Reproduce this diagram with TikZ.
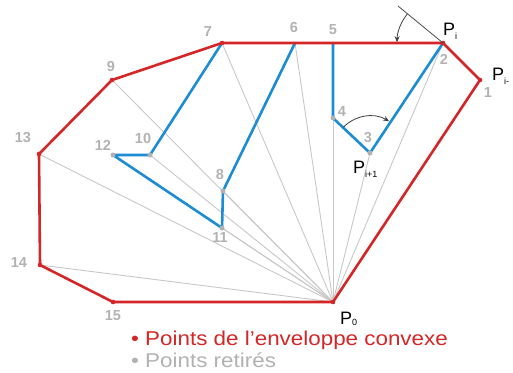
\documentclass[tikz,border=0pt]{standalone}
\usepackage{fontspec}
\setmainfont{Liberation Sans}
\newfontfamily\legendfont[FakeStretch=1.12]{Liberation Sans}
\usetikzlibrary{arrows.meta}

\definecolor{hullred}{RGB}{212,38,38}
\definecolor{stackblue}{RGB}{28,140,212}
\definecolor{raygray}{RGB}{200,200,200}
\definecolor{labelgray}{RGB}{178,178,178}

% point name with a low subscript
\newcommand{\plbl}[2][-4pt]{P\raisebox{#1}{\fontsize{9}{9}\selectfont #2}}

\begin{document}
\begin{tikzpicture}[x=1pt, y=-1pt,
    hull/.style={draw=hullred, line width=2.6pt, line join=round},
    stack/.style={draw=stackblue, line width=2.6pt, line join=round},
    ray/.style={draw=raygray, line width=0.9pt},
    num/.style={text=labelgray, font=\bfseries\fontsize{14.5}{14.5}\selectfont, inner sep=0pt},
    plab/.style={anchor=base west, font=\fontsize{18}{18}\selectfont, inner sep=0pt},
    turn/.style={draw=black!75, line width=0.8pt, -{Stealth[length=6pt,width=5pt]}}]
  \useasboundingbox (0,0) rectangle (513,372);

  % points
  \coordinate (p0) at (333,302);
  \coordinate (p1) at (480,80);
  \coordinate (p2) at (443,43);
  \coordinate (p3) at (370,153);
  \coordinate (p4) at (333,118);
  \coordinate (p5) at (333,43);
  \coordinate (p6) at (295,43);
  \coordinate (p7) at (222,43);
  \coordinate (p8) at (223,191);
  \coordinate (p9) at (112,80);
  \coordinate (p10) at (150,155);
  \coordinate (p11) at (222,228);
  \coordinate (p12) at (113,155);
  \coordinate (p13) at (39,154);
  \coordinate (p14) at (40,265);
  \coordinate (p15) at (113,302);

  % rayons depuis P0
  \foreach \k in {2,...,14}
    \draw[ray] (p0) -- (p\k);

  % pile (segments retires)
  \draw[stack] (p7) -- (p10) -- (p12) -- (p11) -- (p8) -- (p6);
  \draw[stack] (p5) -- (p4) -- (p3) -- (p2);

  % enveloppe convexe
  \draw[hull] (p0) -- (p1) -- (p2) -- (p7) -- (p9) -- (p13) -- (p14) -- (p15) -- cycle;

  % marques des points
  \foreach \k in {0,1,2,7,9,13,14,15}
    \fill[hullred] (p\k) circle (2.3);
  \foreach \k in {3,4,8,10,11,12}
    \fill[labelgray] (p\k) circle (2.5);

  % angles
  \coordinate (tg) at (398,6);
  \draw[draw=black!70, line width=0.8pt] (p2) -- (tg);
  \draw[turn] (p2) ++(219:46) arc[start angle=219, end angle=181, radius=46];
  \draw[turn] (p3) ++(224:37) arc[start angle=224, end angle=301, radius=37];

  % numeros
  \node[num] (n1) at (488,93) {1};
  \node[num] (n2) at (444,59) {2};
  \node[num] (n3) at (368,138) {3};
  \node[num] (n4) at (342,112) {4};
  \node[num] (n5) at (333,30) {5};
  \node[num] (n6) at (294,28) {6};
  \node[num] (n7) at (208,32) {7};
  \node[num] (n8) at (220,175) {8};
  \node[num] (n9) at (111,67) {9};
  \node[num] (n10) at (143,139) {10};
  \node[num] (n11) at (220,238) {11};
  \node[num] (n12) at (103,145) {12};
  \node[num] (n13) at (23,138) {13};
  \node[num] (n14) at (19,263) {14};
  \node[num] (n15) at (113,316) {15};

  % noms des points
  \node[plab] (pi) at (443,35) {\plbl{i}};
  \node[plab] (pim) at (492,80) {\plbl{i-}};
  \node[plab] (pip) at (353,173) {\plbl{i+1}};
  \node[plab] (pz) at (340,324) {\plbl[-1.5pt]{0}};

  % legende
  \node[anchor=base west, inner sep=0pt, text=hullred, font=\legendfont\fontsize{20}{20}\selectfont] (leg1) at (131,345) {• Points de l’enveloppe convexe};
  \node[anchor=base west, inner sep=0pt, text=labelgray, font=\legendfont\fontsize{20}{20}\selectfont] (leg2) at (131,367) {• Points retirés};
\end{tikzpicture}
\end{document}
